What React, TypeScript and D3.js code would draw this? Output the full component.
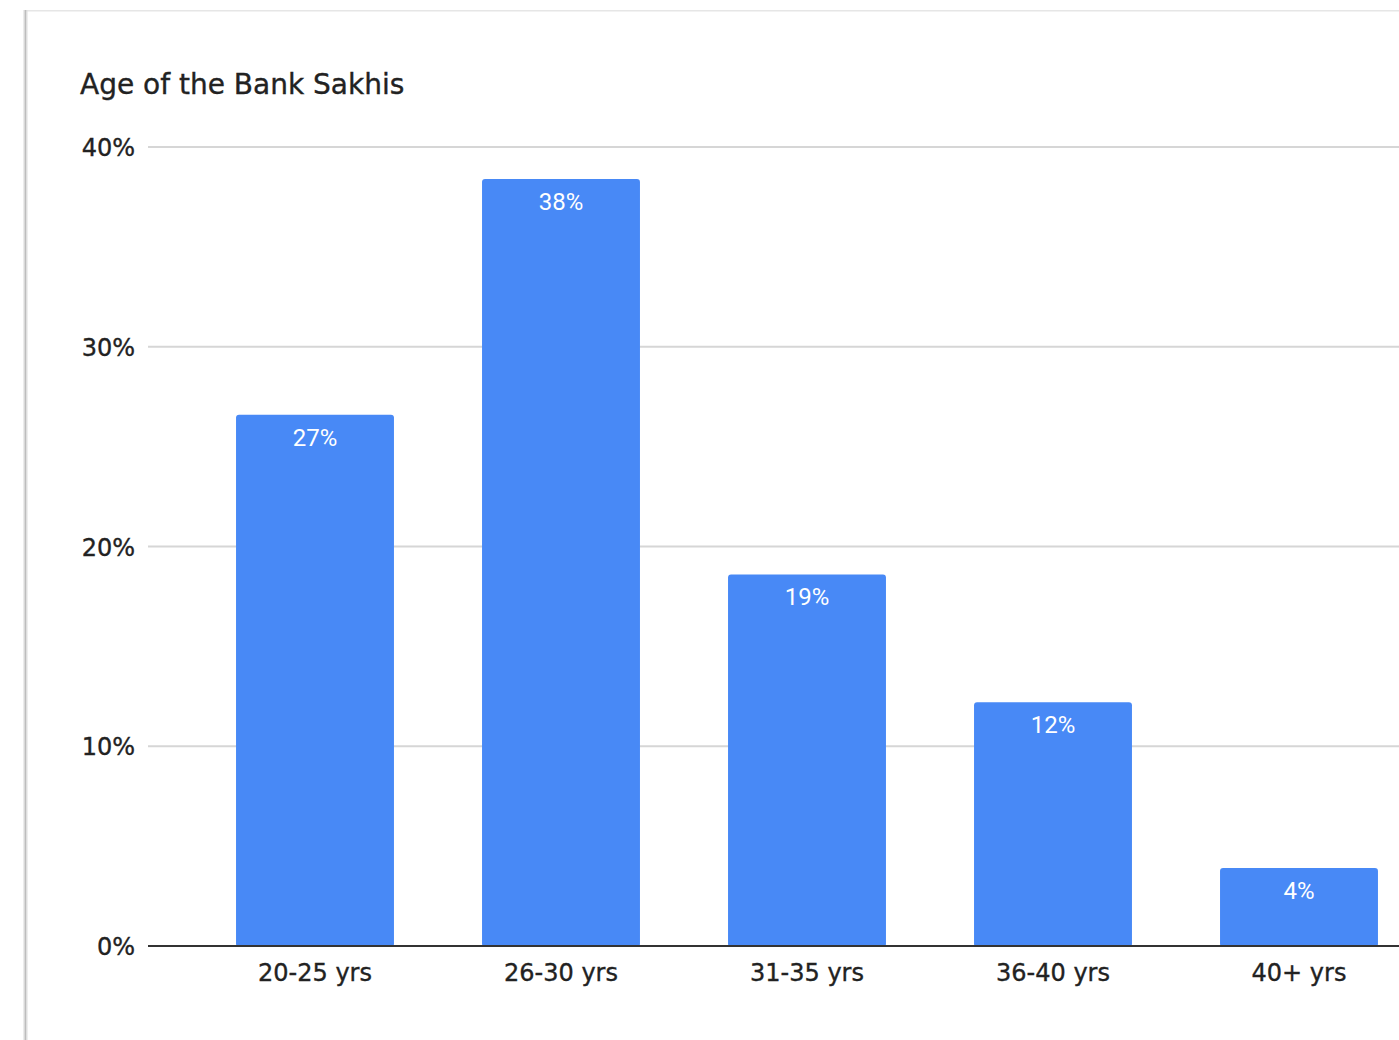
import React from "react";
import * as d3 from "d3";

const categories = ["20-25 yrs", "26-30 yrs", "31-35 yrs", "36-40 yrs", "40+ yrs"];
const values = [0.266, 0.384, 0.186, 0.122, 0.039];
const yTicks = [0, 0.1, 0.2, 0.3, 0.4];
const title = "Age of the Bank Sakhis";

export default function App() {
  const W = 1399;
  const H = 1040;
  const font = "'DejaVu Sans', Verdana, sans-serif";
  const labelFont = "Roboto, 'Noto Sans', sans-serif";
  const y = d3.scaleLinear().domain([0, 0.4]).range([946, 147]);
  const x = d3.scaleBand<string>().domain(categories).range([192, 1422]).paddingInner(0.358).paddingOuter(0.179);
  const fmt = d3.format(".0%");
  const gridX0 = 148;
  const gridX1 = 1399;
  const heavy = { stroke: "#222", strokeWidth: 0.35 };
  return (
    <div style={{ position: "absolute", left: 0, top: 0, width: W, height: H, background: "#fff" }}>
      <svg width={W} height={H} style={{ display: "block" }}>
        <rect x={0} y={0} width={W} height={H} fill="#ffffff" />
        {/* card edges */}
        <rect x={26} y={10} width={W} height={1.5} fill="#e6e6e6" />
        <rect x={23} y={10} width={1.5} height={H} fill="#ececec" />
        <rect x={24.5} y={10} width={2} height={H} fill="#bdbdbd" />
        <rect x={26.5} y={10} width={1} height={H} fill="#dedede" />
        <text x={80} y={94} fontFamily={font} fontSize={28} fill="#222" {...heavy}>{title}</text>
        {yTicks.map((t) => (
          <g key={t}>
            {t > 0 && (
              <line x1={gridX0} x2={gridX1} y1={y(t)} y2={y(t)} stroke="#d6d6d6" strokeWidth={2} />
            )}
            <text x={135} y={y(t) + 9} textAnchor="end" fontFamily={font} fontSize={24} fill="#222" {...heavy}>
              {fmt(t)}
            </text>
          </g>
        ))}
        {categories.map((c, i) => (
          <g key={c}>
            <rect
              x={x(c)}
              y={y(values[i])}
              width={x.bandwidth()}
              height={y(0) - y(values[i]) + 1}
              rx={3}
              fill="#4889f6"
            />
            <text
              x={(x(c) as number) + x.bandwidth() / 2}
              y={y(values[i]) + 31}
              textAnchor="middle"
              fontFamily={labelFont}
              fontSize={24}
              fill="#ffffff"
            >
              {fmt(values[i])}
            </text>
            <text
              x={(x(c) as number) + x.bandwidth() / 2}
              y={981}
              textAnchor="middle"
              fontFamily={font}
              fontSize={24}
              fill="#222"
              {...heavy}
            >
              {c}
            </text>
          </g>
        ))}
        <line x1={gridX0} x2={gridX1} y1={y(0)} y2={y(0)} stroke="#333" strokeWidth={2} />
      </svg>
    </div>
  );
}
